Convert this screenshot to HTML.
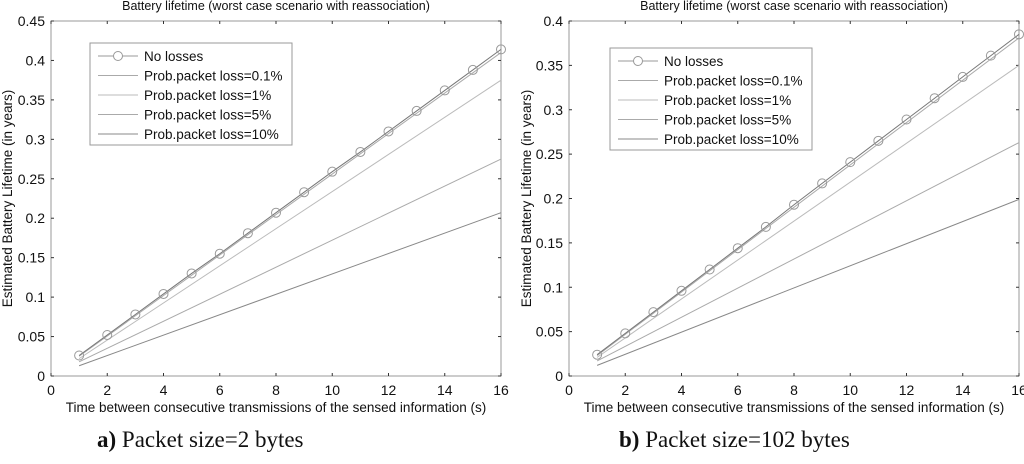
<!DOCTYPE html>
<html><head><meta charset="utf-8"><style>
body{margin:0;background:#fff;width:1024px;height:459px;overflow:hidden}
svg text{font-family:"Liberation Sans",sans-serif;fill:#111}
.cap{font-family:"Liberation Serif",serif;font-size:23px;fill:#111}
</style></head><body>
<svg id="s" width="1024" height="459">
<text class="cap" x="97" y="447"><tspan font-weight="bold">a)</tspan>  Packet size=2 bytes</text>
<text class="cap" x="619" y="447"><tspan font-weight="bold">b)</tspan> Packet size=102 bytes</text>
</svg>
<script>
const xs = [1,2,3,4,5,6,7,8,9,10,11,12,13,14,15,16];
const xEnds = [1,16];
const seriesNames = ["Prob.packet loss=0.1%","Prob.packet loss=1%","Prob.packet loss=5%","Prob.packet loss=10%"];
const aNoLoss = [0.026,0.052,0.078,0.104,0.130,0.155,0.181,0.207,0.233,0.259,0.284,0.310,0.336,0.362,0.388,0.414];
const aLoss01 = [0.025,0.410];
const aLoss1 = [0.022,0.375];
const aLoss5 = [0.018,0.275];
const aLoss10 = [0.013,0.207];
const bNoLoss = [0.024,0.048,0.072,0.096,0.120,0.144,0.168,0.193,0.217,0.241,0.265,0.289,0.313,0.337,0.361,0.385];
const bLoss01 = [0.023,0.381];
const bLoss1 = [0.021,0.350];
const bLoss5 = [0.017,0.263];
const bLoss10 = [0.012,0.199];
const aYTicks = [0,0.05,0.1,0.15,0.2,0.25,0.3,0.35,0.4,0.45];
const bYTicks = [0,0.05,0.1,0.15,0.2,0.25,0.3,0.35,0.4];
const xTicks = [0,2,4,6,8,10,12,14,16];

const NS="http://www.w3.org/2000/svg", svg=document.getElementById('s');
function mk(t,a,p){const e=document.createElementNS(NS,t);for(const k in a)e.setAttribute(k,a[k]);(p||svg).appendChild(e);return e;}

function panel(id,L,R,T,B,ymax,yt,noLoss,losses,legX,legY,ylOff){
  const g=mk('g',{});
  
  
  const X=v=>L+(v/16)*(R-L), Y=v=>B-(v/ymax)*(B-T);
  mk('rect',{x:L,y:T,width:R-L,height:B-T,fill:'none',stroke:'#999','stroke-width':1},g);
  xTicks.forEach(v=>{
    mk('line',{x1:X(v),x2:X(v),y1:B,y2:B-3,stroke:'#333'},g);
    mk('line',{x1:X(v),x2:X(v),y1:T,y2:T+3,stroke:'#333'},g);
    const t=mk('text',{x:X(v),y:B+19,'text-anchor':'middle','font-size':14},g);t.textContent=v;
    
    
  });
  yt.forEach(v=>{
    mk('line',{x1:L,x2:L+3,y1:Y(v),y2:Y(v),stroke:'#333'},g);
    mk('line',{x1:R,x2:R-3,y1:Y(v),y2:Y(v),stroke:'#333'},g);
    const t=mk('text',{x:L-6,y:Y(v)+5,'text-anchor':'end','font-size':14},g);t.textContent=+v.toFixed(2);
    
    
  });
  const tt=mk('text',{x:(L+R)/2,y:10,'text-anchor':'middle','font-size':12.5},g);
  tt.textContent='Battery lifetime (worst case scenario with reassociation)';
  
  
  const xl=mk('text',{x:(L+R)/2,y:B+36,'text-anchor':'middle','font-size':13.5},g);
  xl.textContent='Time between consecutive transmissions of the sensed information (s)';
  
  
  const yl=mk('text',{x:0,y:0,'text-anchor':'middle','font-size':13.5,transform:`translate(${L-ylOff},${(T+B)/2}) rotate(-90)`},g);
  yl.textContent='Estimated Battery Lifetime (in years)';
  
  
  const cols=['#aaa','#bbb','#aaa','#888'];
  losses.forEach((s,i)=>{
    const p=mk('polyline',{points:xEnds.map((x,j)=>X(x)+','+Y(s[j])).join(' '),fill:'none',stroke:cols[i],'stroke-width':1},g);
    
    
  });
  const nl=mk('polyline',{points:xs.map((x,j)=>X(x)+','+Y(noLoss[j])).join(' '),fill:'none',stroke:'#777','stroke-width':1},g);
  
  
  xs.forEach((x,j)=>{
    const c=mk('circle',{cx:X(x),cy:Y(noLoss[j]),r:4.5,fill:'none',stroke:'#999'},g);
    
    
  });
  const lg=mk('g',{},g);
  
  
  mk('rect',{x:legX,y:legY,width:202,height:102,fill:'#fff',stroke:'#999'},lg);
  const names=['No losses'].concat(seriesNames), lc=['#999'].concat(cols);
  names.forEach((n,i)=>{
    const yy=legY+13+i*19.5;
    mk('line',{x1:legX+8,x2:legX+48,y1:yy,y2:yy,stroke:lc[i]},lg);
    if(i==0) mk('circle',{cx:legX+28,cy:yy,r:4.5,fill:'#fff',stroke:'#999'},lg);
    const t=mk('text',{x:legX+54,y:yy+5,'font-size':13.5},lg);t.textContent=n;
    
    
  });
}
panel('panel-a',51,501,21,376,0.45,aYTicks,aNoLoss,[aLoss01,aLoss1,aLoss5,aLoss10],90,43,39);
panel('panel-b',569,1019,21,376,0.4,bYTicks,bNoLoss,[bLoss01,bLoss1,bLoss5,bLoss10],610,48,38);
</script>
</body></html>
